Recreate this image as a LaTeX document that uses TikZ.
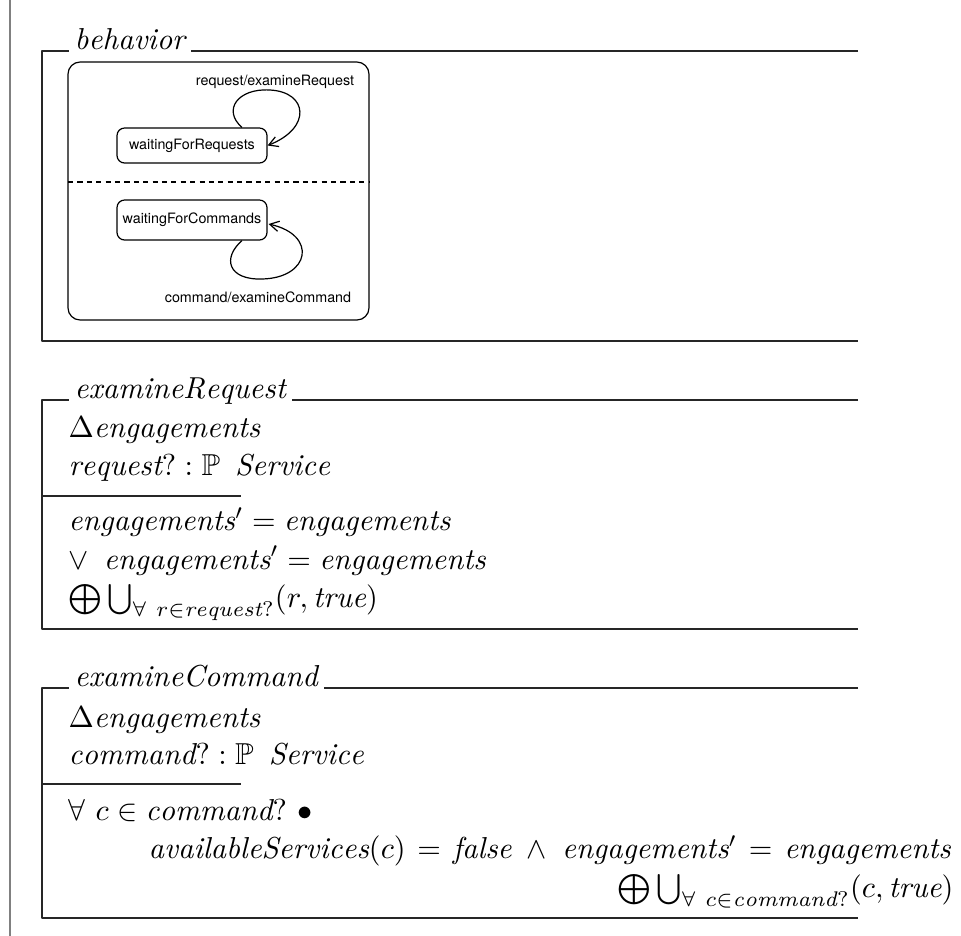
\documentclass[tikz,border=0pt]{standalone}
\usepackage{amsmath,amssymb}
\usepackage{fontspec}
\newfontfamily\heros{TeX Gyre Heros}
\usetikzlibrary{arrows.meta,calc}

\begin{document}
\begin{tikzpicture}[x=0.33pt,y=-0.33pt,>={Straight Barb[length=3pt,width=3.4pt]},line join=round,
  frame/.style={line width=0.5pt,black!85},
  title/.style={anchor=base west,fill=white,inner xsep=2pt,inner ysep=1pt},
  zline/.style={anchor=base west,inner sep=0pt},
  state/.style={draw,rounded corners=2.5pt,line width=0.4pt,minimum width=49.5pt,inner sep=0pt,font=\heros\fontsize{4.72}{6}\selectfont},
  lbl/.style={inner sep=0pt,font=\heros\fontsize{4.72}{6}\selectfont}]
  \useasboundingbox (0,0) rectangle (961,936);
  \draw[line width=0.4pt,gray] (10,0) -- (10,936);
  % behavior
  \draw[frame] (858,51) -- (42,51) -- (42,341) -- (858,341);
  \node[title] (tBeh) at (68,49) {$\mathit{behavior}$};
  \draw[line width=0.4pt,rounded corners=4pt] (68,62) rectangle (369,320);
  \draw[line width=0.4pt,dash pattern=on 1.7pt off 1.4pt] (68,182) -- (369,182);
  \node[state,minimum height=11.55pt] (wfr) at (192,145.5) {waitingForRequests};
  \node[state,minimum height=13.2pt] (wfc) at (192,220) {waitingForCommands};
  \node[lbl] (lReq) at (275,82) {request/examineRequest};
  \node[lbl] (lCmd) at (258,297) {command/examineCommand};
  \draw[->,line width=0.4pt] ($(wfr.north)+(50,0)$) .. controls (222,110) and (238,88) .. (270,90)
    .. controls (308,92) and (312,128) .. (wfr.east);
  \draw[->,line width=0.4pt] ($(wfc.south)+(50,0)$) .. controls (222,258) and (228,280) .. (262,279)
    .. controls (310,278) and (318,235) .. ($(wfc.east)+(1,4)$);
  % examineRequest
  \draw[frame] (858,400) -- (42,400) -- (42,629) -- (858,629);
  \draw[frame] (42,496) -- (241,496);
  \node[title] (tReq) at (68,398) {$\mathit{examineRequest}$};
  \node[zline] (rq1) at (68,437.5) {$\Delta \mathit{engagements}$};
  \node[zline] (rq2) at (68,475) {$\mathit{request}? : \mathbb{P}\ \,\mathit{Service}$};
  \node[zline] (rq3) at (68,530.5) {$\mathit{engagements}' = \mathit{engagements}$};
  \node[zline] (rq4) at (68,569) {$\lor\enspace \mathit{engagements}' = \mathit{engagements}$};
  \node[zline] (rq5) at (68,607) {$\bigoplus\bigcup_{\forall\ r \in \mathit{request}?}(r, \mathit{true})$};
  % examineCommand
  \draw[frame] (858,688) -- (42,688) -- (42,918) -- (858,918);
  \draw[frame] (42,784) -- (241,784);
  \node[title] (tCmd) at (68,686) {$\mathit{examineCommand}$};
  \node[zline] (cm1) at (68,727) {$\Delta \mathit{engagements}$};
  \node[zline] (cm2) at (68,764.5) {$\mathit{command}? : \mathbb{P}\ \,\mathit{Service}$};
  \node[zline] (cm3) at (68,820) {$\forall\ c \in \mathit{command}?\ \bullet$};
  \node[zline] (cm4) at (148,858.5) {$\mathit{availableServices}(c) \mkern2mu=\mkern2mu \mathit{false} \;\land\; \mathit{engagements}' \mkern2mu=\mkern2mu \mathit{engagements}$};
  \node[zline,anchor=base east] (cm5) at (954,897) {$\bigoplus\bigcup_{\forall\ c \in \mathit{command}?}(c, \mathit{true})$};
\end{tikzpicture}
\end{document}
